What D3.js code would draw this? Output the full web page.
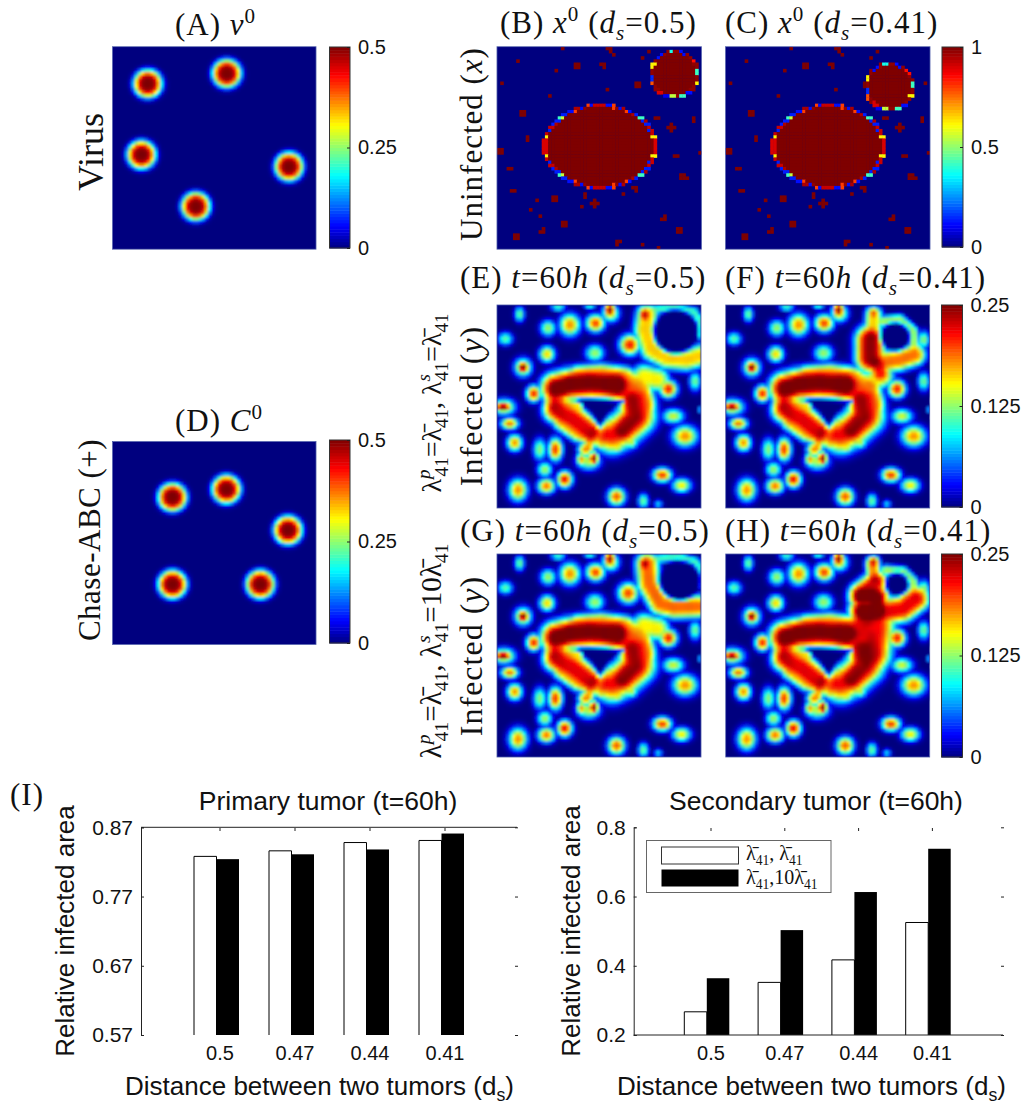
<!DOCTYPE html>
<html><head><meta charset="utf-8">
<script src="https://cdn.jsdelivr.net/npm/d3@7"></script>
<style>html,body{margin:0;padding:0;background:#fff}svg{display:block}
.sans{font-family:"Liberation Sans",Arial,sans-serif;fill:#111}
.serif{font-family:"Liberation Serif",serif;fill:#111}</style></head>
<body><svg id="c" width="1024" height="1106"></svg>
<script>
// ---------- bar chart data ----------
const distances = ["0.5","0.47","0.44","0.41"];
const primaryBase = [0.828,0.836,0.848,0.851];
const primaryHigh = [0.824,0.831,0.838,0.861];
const secondaryBase = [0.267,0.352,0.417,0.525];
const secondaryHigh = [0.364,0.503,0.613,0.738];
const primaryTicks = [0.57,0.67,0.77,0.87];
const secondaryTicks = [0.2,0.4,0.6,0.8];
// ---------- initial condition data (field units 0..611, cells 0..63) ----------
const virusCenters = [[106,112],[343,81],[87,326],[530,362],[250,482]];
const chaseCenters = [[180,168],[342,144],[527,267],[180,430],[444,430]];
const isletCells = [[20,0],[34,0],[35,0],[35,1],[36,2],[6,4],[24,5],[25,5],[24,6],[25,6],[33,5],[32,5],[33,6],[18,7],[43,11],[44,11],[43,12],[44,12],[1,11],[34,13],[16,15],[47,1],[45,3],[62,11],
[7,20],[8,20],[7,21],[8,21],[49,22],[50,22],[61,22],[61,23],[54,24],[53,25],[54,25],[55,25],[54,26],[9,28],[9,29],[0,32],[1,32],[0,33],[1,33],[55,34],[56,34],[63,33],[3,38],[4,38],
[4,45],[5,45],[57,40],[58,40],[58,41],[59,41],[57,41],[42,44],[43,44],[43,45],[27,46],[27,47],[39,46],[30,48],[29,49],[30,49],[31,49],[30,50],[17,47],[18,47],[17,48],[18,48],[12,48],[26,50],[10,51],[13,53],
[20,55],[21,55],[20,56],[21,56],[14,57],[14,58],[13,58],[5,59],[6,59],[5,60],[6,60],[52,53],[51,54],[52,54],[56,57],[57,57],[56,58],[57,58],[37,61],[38,61],[37,62],[45,62],[50,63]];
const bigTumor = {col:32.2,row:31.5,rc:18,rr:13.4};
const smallTumorB = {col:55.5,row:8.7,rc:7.7,rr:7.7};
const smallTumorC = {col:51.3,row:12.7,rc:7.8,rr:7.8};
const bigRim = [.9,.9,.9,.62,.92,.92,.14,.92,.14,.95,.14,.42,.55,.14,.95,.12,.8,.95,.12,.98,.8,.12,.92,.92];
const smallRim = [.98,.62,.98,.12,.42,.98,.55,.1,.9,.98,.78,.15,.98,.62,.98,.12,.98,.38,.98,.12,.98,.85,.98,.42];
// ---------- t=60h field marks: blobs [x,y,peak,rx,ry], strokes [peak,R,[x,y]...] ----------
const satelliteBlobs = [[68,28,.47,17,25],[25,102,.45,25,22],[153,70,.52,27,27],[218,60,.72,35,38],[295,55,.8,32,30],[338,15,1,18,25],[340,25,.6,30,30],[183,7,.42,25,14],[278,5,.38,20,10],
[293,145,.52,32,28],[150,148,.65,27,27],[78,188,1,20,20],[78,188,.62,30,32],[110,267,.85,25,28],[18,307,1,30,15],[20,307,.62,40,28],[38,357,.75,30,20],[53,415,.72,26,28],[128,435,.5,22,38],[175,435,.82,24,40],
[143,495,.52,25,26],[203,525,.88,26,28],[148,545,.75,30,26],[63,557,.72,32,38],[358,577,.78,30,30],[438,590,.47,18,25],[483,600,.32,15,15],[495,512,.82,32,24],[553,543,.62,32,24],[563,395,.72,42,36],[528,335,.57,36,25],[593,230,.47,20,32],[513,253,.85,30,30],[608,315,.32,8,10],
[253,465,.7,18,22],[290,462,1,16,24],[265,435,.72,26,25],[275,470,.55,40,30],[362,430,.52,18,18],[403,415,.52,20,20]];
const tumorStrokes = [[.68,36,[178,300],[195,245],[245,210],[313,205],[385,215],[435,250],[448,300],[425,355],[385,385],[313,395],[245,385],[195,350],[178,300]],
[1.02,58,[178,250],[218,240],[278,235],[358,240]],[.8,68,[358,245],[415,285],[422,335],[378,375],[345,392]],[.88,48,[405,285],[410,335],[375,375]],[.88,50,[178,315],[228,340],[280,382]],[.68,32,[165,260],[165,305]],[.62,20,[170,290],[245,305]],[.65,24,[290,375],[275,425]],[.6,24,[328,380],[310,415]]];
const tumorHole = [[248,287],[375,291],[332,320],[308,362],[284,320]];
const panelE = {blobs:[[443,30,.9,22,28],[398,120,.85,35,35]],strokes:[[.66,42,[450,30],[443,75],[463,135],[508,160],[568,165],[618,150]],[.42,18,[468,15],[528,7],[588,20],[611,55],[611,90]],[.62,45,[440,215],[480,225]]],holes:[[535,80,62,62]]};
const panelG = {blobs:[[443,30,.9,22,28],[393,118,.8,35,35]],strokes:[[.76,44,[450,30],[455,90],[490,150],[530,160],[600,158]],[.42,18,[480,15],[540,7],[595,25],[611,60],[611,90]],[.62,45,[440,215],[480,225]]],holes:[[548,80,58,55]]};
const panelF = {blobs:[[443,25,.72,20,24],[593,105,.5,20,30]],strokes:[[.98,55,[433,105],[433,160]],[.65,32,[443,30],[440,90]],[.75,42,[455,175],[520,165],[565,150]],[.82,38,[455,180],[463,205]],[.62,42,[440,230],[470,215]],[.52,22,[470,50],[520,45],[560,80],[565,130]]],holes:[[508,95,40,38]]};
const panelH = {blobs:[[443,25,.85,20,24],[593,105,.5,20,30]],strokes:[[1.03,50,[410,130],[450,130],[450,170],[410,170]],[.9,44,[405,120],[450,85]],[.88,50,[470,175],[530,165],[570,135]],[.72,28,[440,30],[445,75]],[.52,22,[480,50],[530,55],[560,85],[565,130]],[.86,70,[430,190],[450,220],[440,300]],[.8,55,[390,235],[420,190]]],holes:[[513,90,30,30]]};

const gridN = 64, fieldSize = 611;
const svg = d3.select("#c");
const defs = svg.append("defs");
defs.append("filter").attr("id","soft").attr("x","-2%").attr("y","-2%").attr("width","104%").attr("height","104%")
  .append("feGaussianBlur").attr("stdDeviation",0.8);
defs.append("filter").attr("id","softB").attr("x","-2%").attr("y","-2%").attr("width","104%").attr("height","104%")
  .append("feGaussianBlur").attr("stdDeviation",0.55);
const jet = d3.scaleLinear().domain([0,.11,.36,.61,.86,1]).range(["#00007f","#0000ff","#00ffff","#ffff00","#ff0000","#7f0000"]).clamp(true);

function rich(x,y,segs,o){
  const size=o.size, t=svg.append("text").attr("class",o.cls||"serif").attr("font-size",size)
    .attr("text-anchor",o.anchor||"start").attr("transform",`translate(${x},${y})${o.rotate?` rotate(${o.rotate})`:""}`);
  if(o.ls)t.attr("letter-spacing",o.ls);
  let cur=0;
  segs.forEach(s=>{
    const target=s.sup?-0.38*size:s.sub?0.24*size:0;
    const ts=t.append("tspan").text(s.t).attr("dy",target-cur);
    if(s.dx)ts.attr("dx",s.dx);
    if(s.i)ts.attr("font-style","italic");
    if(s.sup||s.sub)ts.attr("font-size",size*0.68);
    cur=target;
  });
  return t;
}
function segDist(px,py,a,b){const dx=b[0]-a[0],dy=b[1]-a[1],l=dx*dx+dy*dy||1;
  const u=Math.max(0,Math.min(1,((px-a[0])*dx+(py-a[1])*dy)/l));return Math.hypot(px-a[0]-u*dx,py-a[1]-u*dy);}
function polySigned(px,py,poly){let inside=false,d=1e9;
  for(let i=0,j=poly.length-1;i<poly.length;j=i++){const a=poly[i],b=poly[j];
    d=Math.min(d,segDist(px,py,a,b));
    if((a[1]>py)!==(b[1]>py)&&px<(b[0]-a[0])*(py-a[1])/(b[1]-a[1])+a[0])inside=!inside;}
  return inside?-d:d;}
const smooth=(a,b,x)=>{const t=Math.max(0,Math.min(1,(x-a)/(b-a)));return t*t*(3-2*t);};
function fieldValue(px,py,p){
  let s=0;const add=v=>{s+=Math.pow(v,5);};
  satelliteBlobs.concat(p.blobs).forEach(b=>{const r=Math.hypot((px-b[0])/(b[3]*1.12),(py-b[1])/(b[4]*1.12));add(b[2]*Math.exp(-1.95*Math.pow(r,2.4)));});
  tumorStrokes.concat(p.strokes).forEach(st=>{const pts=st.slice(2);let d=1e9;
    for(let i=0;i<pts.length-1;i++)d=Math.min(d,segDist(px,py,pts[i],pts[i+1]));
    const r=d/st[1];add(st[0]*Math.exp(-1.95*r*r*r));});
  let v=Math.pow(s,1/5);
  v*=smooth(-6,14,polySigned(px,py,tumorHole));
  p.holes.forEach(h=>{const r=Math.hypot((px-h[0])/h[2],(py-h[1])/h[3]);v*=smooth(-6,14,(r-1)*(h[2]+h[3])/2);});
  return Math.min(1,v);
}
function discValue(px,py,centers){let m=0;centers.forEach(c=>{const r=Math.hypot(px-c[0],py-c[1])/42;m=Math.max(m,Math.exp(-r*r*r*r));});return m;}
function tumorValue(c,r,t,rim){const dx=(c+.5-t.col)/t.rc,dy=(r+.5-t.row)/t.rr,n=Math.hypot(dx,dy);
  if(n>1)return null;if(n<1-1.15/Math.min(t.rc,t.rr)*.9)return 1;
  const a=Math.atan2(dy,dx);return rim(a);}
const bigRimAt=a=>{const q=Math.abs(a)>Math.PI/2?Math.PI-Math.abs(a):Math.abs(a);return bigRim[Math.min(bigRim.length-1,Math.floor(q/(Math.PI/2)*bigRim.length))];};
const smallRimAt=a=>smallRim[Math.floor(((a+2*Math.PI)%(2*Math.PI))/(2*Math.PI)*smallRim.length)%smallRim.length];
function binaryField(small){const m=new Map();isletCells.forEach(([c,r])=>m.set(c+r*gridN,1));
  return (c,r)=>{let v=tumorValue(c,r,bigTumor,bigRimAt);if(v!==null)return v;v=tumorValue(c,r,small,smallRimAt);if(v!==null)return v;return m.get(c+r*gridN)||0;};}

let clipId=0;
function heat(x0,y0,w,h,valueAt,filt){
  const sx=d3.scaleLinear().domain([0,gridN]).range([x0,x0+w]), sy=d3.scaleLinear().domain([0,gridN]).range([y0,y0+h]);
  const id="clip"+(clipId++);
  defs.append("clipPath").attr("id",id).append("rect").attr("x",x0).attr("y",y0).attr("width",w).attr("height",h);
  const g=svg.append("g").attr("clip-path",`url(#${id})`);
  g.append("rect").attr("x",x0).attr("y",y0).attr("width",w).attr("height",h).attr("fill",jet(0));
  const cells=d3.range(gridN*gridN).map(i=>{const c=i%gridN,r=Math.floor(i/gridN);return {c,r,v:valueAt(c,r)};}).filter(d=>d.v>0.004);
  g.append("g").attr("filter",`url(#${filt||"soft"})`).selectAll("rect").data(cells).join("rect")
    .attr("x",d=>sx(d.c)).attr("y",d=>sy(d.r)).attr("width",w/gridN+.4).attr("height",h/gridN+.4).attr("fill",d=>jet(d.v));
  svg.append("rect").attr("x",x0).attr("y",y0).attr("width",w).attr("height",h).attr("fill","none").attr("stroke","#4a58a8").attr("stroke-width",.8);
}
const cellToField=n=>(n+.5)/gridN*fieldSize;
function colorbar(x0,y0,w,h,max,ticks,fmt){
  const y=d3.scaleLinear().domain([0,max]).range([y0+h,y0]);
  const g=svg.append("g");
  const steps=d3.range(64);
  const cb=d3.scaleBand().domain(steps).range([y0+h,y0]);
  g.selectAll("rect").data(steps).join("rect").attr("x",x0).attr("y",d=>cb(d)).attr("width",w).attr("height",cb.bandwidth()+.5).attr("fill",d=>jet((d+.5)/64));
  g.append("rect").attr("x",x0).attr("y",y0).attr("width",w).attr("height",h).attr("fill","none").attr("stroke","#333").attr("stroke-width",1);
  const ax=g.append("g").attr("transform",`translate(${x0+w},0)`).attr("class","sans")
    .call(d3.axisRight(y).tickValues(ticks).tickFormat(fmt).tickSize(-3).tickPadding(8));
  ax.select(".domain").remove();
  ax.selectAll("text").attr("font-size",20).attr("font-family",'"Liberation Sans",Arial,sans-serif').attr("fill","#111");
  ax.selectAll("line").attr("stroke","#222");
}
heat(112.5,46.7,203.5,202.5,(c,r)=>discValue(cellToField(c),cellToField(r),virusCenters));
heat(112.5,441.5,203.5,203,(c,r)=>discValue(cellToField(c),cellToField(r),chaseCenters));
heat(497,46.7,204.5,202.5,binaryField(smallTumorB),"softB");
heat(725.5,46.7,204.5,202.5,binaryField(smallTumorC),"softB");
[[497,305,panelE],[725.7,305,panelF],[497,554,panelG],[725.7,554,panelH]].forEach(([x,y,p])=>
  heat(x,y,204,203,(c,r)=>fieldValue(cellToField(c),cellToField(r),p)));
colorbar(329.5,47,20.5,201,.5,[0,.25,.5],d=>d===0?"0":String(d));
colorbar(329.5,440,20.5,203,.5,[0,.25,.5],d=>d===0?"0":String(d));
colorbar(942,47,21,200,1,[0,.5,1],d=>String(d));
colorbar(941.5,305,21,202,.25,[0,.125,.25],d=>String(d));
colorbar(941.5,554,21,203,.25,[0,.125,.25],d=>String(d));

// titles
const T={size:31,ls:1};
const ds=[{t:"("},{t:"d",i:1},{t:"s",i:1,sub:1}];
rich(175,35,[{t:"(A) "},{t:"v",i:1},{t:"0",sup:1}],T);
rich(175,431,[{t:"(D) "},{t:"C",i:1},{t:"0",sup:1}],T);
rich(500,33,[{t:"(B) "},{t:"x",i:1},{t:"0",sup:1},{t:" "},...ds,{t:"=0.5)"}],T);
rich(725,33,[{t:"(C) "},{t:"x",i:1},{t:"0",sup:1},{t:" "},...ds,{t:"=0.41)"}],T);
const t60=[{t:"t",i:1},{t:"=60"},{t:"h",i:1},{t:" "},...ds];
rich(460,288,[{t:"(E) "},...t60,{t:"=0.5)"}],T);
rich(725,288,[{t:"(F) "},...t60,{t:"=0.41)"}],T);
rich(460,541,[{t:"(G) "},...t60,{t:"=0.5)"}],T);
rich(725,541,[{t:"(H) "},...t60,{t:"=0.41)"}],T);
rich(10,805,[{t:"(I)"}],T);
// rotated labels
const R=-90;
rich(103,152,[{t:"Virus"}],{size:36,anchor:"middle",rotate:R});
rich(100,540,[{t:"Chase-ABC (+)"}],{size:31,ls:.5,anchor:"middle",rotate:R});
rich(482,144,[{t:"Uninfected ("},{t:"x",i:1},{t:")"}],{size:31,ls:1,anchor:"middle",rotate:R});
rich(482,406,[{t:"Infected ("},{t:"y",i:1},{t:")"}],{size:32,ls:1,anchor:"middle",rotate:R});
rich(482,656,[{t:"Infected ("},{t:"y",i:1},{t:")"}],{size:32,ls:1,anchor:"middle",rotate:R});
const lam=(s)=>[{t:"λ"},{t:s,i:1,sup:1},{t:"41",sub:1,dx:-7}];
rich(441,403,[...lam("p"),{t:"=λ̄"},{t:"41",sub:1},{t:", "},...lam("s"),{t:"=λ̄"},{t:"41",sub:1}],{size:28,anchor:"middle",rotate:R});
rich(441,651,[...lam("p"),{t:"=λ̄"},{t:"41",sub:1},{t:", "},...lam("s"),{t:"=10λ̄"},{t:"41",sub:1}],{size:29,anchor:"middle",rotate:R});

// bars
function bars(o){
  const y=d3.scaleLinear().domain(o.domain).range([1035,827.3]);
  const x=d3.scaleBand().domain(distances).range(o.range);
  const mid=k=>x(k)+x.bandwidth()/2;
  const g=svg.append("g");
  const bw=o.bw;
  const rows=distances.map((d,i)=>({d,a:o.a[i],b:o.b[i]}));
  g.selectAll("path.w").data(rows).join("path").attr("class","w")
    .attr("d",d=>`M${mid(d.d)+o.off},${y.range()[0]}V${y(d.a)}h${bw}V${y.range()[0]}`).attr("fill","#fff").attr("stroke","#000").attr("stroke-width",1);
  g.selectAll("rect.k").data(rows).join("rect").attr("class","k")
    .attr("x",d=>mid(d.d)+o.off+bw).attr("y",d=>y(d.b)).attr("width",bw).attr("height",d=>y.range()[0]-y(d.b)).attr("fill","#000");
  const fontify=(s,f)=>s.selectAll("text").attr("font-size",f).attr("font-family",'"Liberation Sans",Arial,sans-serif').attr("fill","#111");
  const left=g.append("g").attr("transform",`translate(${o.x0},0)`).call(d3.axisLeft(y).tickValues(o.ticks).tickFormat(d3.format(o.fmt)).tickSize(-3).tickPadding(8));
  fontify(left,21);left.selectAll("path,line").attr("stroke","#222");
  const right=g.append("g").attr("transform",`translate(${o.x1-2},0)`).call(d3.axisLeft(y).tickValues(o.ticks).tickFormat("").tickSize(-3));
  right.select(".domain").remove();right.selectAll("line").attr("stroke","#222");
  const top=g.append("g").attr("transform","translate(0,828)").call(d3.axisBottom(x).tickSize(3).tickFormat(""));
  top.select(".domain").remove();top.selectAll("line").attr("stroke","#222");
  const bottom=g.append("g").attr("transform","translate(0,1035)").call(d3.axisBottom(x).tickSize(0).tickPadding(11));
  bottom.select(".domain").remove();fontify(bottom,20);
  g.append("line").attr("x1",o.x0).attr("x2",o.x1).attr("y1",o.lineY).attr("y2",o.lineY).attr("stroke","#222");
  rich(o.ylabel,931,[{t:"Relative infected area"}],{size:26,cls:"sans",anchor:"middle",rotate:R});
  rich(o.xlabel,1095,[{t:"Distance between two tumors (d"},{t:"s",sub:1},{t:")"}],{size:26,cls:"sans"});
  rich(o.titleX,810,[{t:o.title}],{size:26.5,cls:"sans",anchor:"middle"});
}
bars({domain:[.57,.87],range:[182.5,482.5],bw:22.5,off:-26,a:primaryBase,b:primaryHigh,ticks:primaryTicks,fmt:".2f",x0:141,x1:517,lineY:827.3,ylabel:74,xlabel:125,titleX:328,title:"Primary tumor (t=60h)"});
bars({domain:[.2,.8],range:[674.1,969.3],bw:22.5,off:-26.7,a:secondaryBase,b:secondaryHigh,ticks:secondaryTicks,fmt:".1f",x0:633.7,x1:1003,lineY:1035,ylabel:580,xlabel:617,titleX:816,title:"Secondary tumor (t=60h)"});

// legend
svg.append("rect").attr("x",646.5).attr("y",840.5).attr("width",184.5).attr("height",52).attr("fill","#fff").attr("stroke","#666");
svg.append("rect").attr("x",661.5).attr("y",847).attr("width",77).attr("height",17).attr("fill","#fff").attr("stroke","#333");
svg.append("rect").attr("x",661.5).attr("y",869.5).attr("width",77).attr("height",17).attr("fill","#000");
rich(746,860,[{t:"λ̄"},{t:"41",sub:1},{t:",  "},{t:"λ̄"},{t:"41",sub:1}],{size:20});
rich(746,884,[{t:"λ̄"},{t:"41",sub:1},{t:","},{t:"10λ̄"},{t:"41",sub:1}],{size:20});
</script></body></html>
